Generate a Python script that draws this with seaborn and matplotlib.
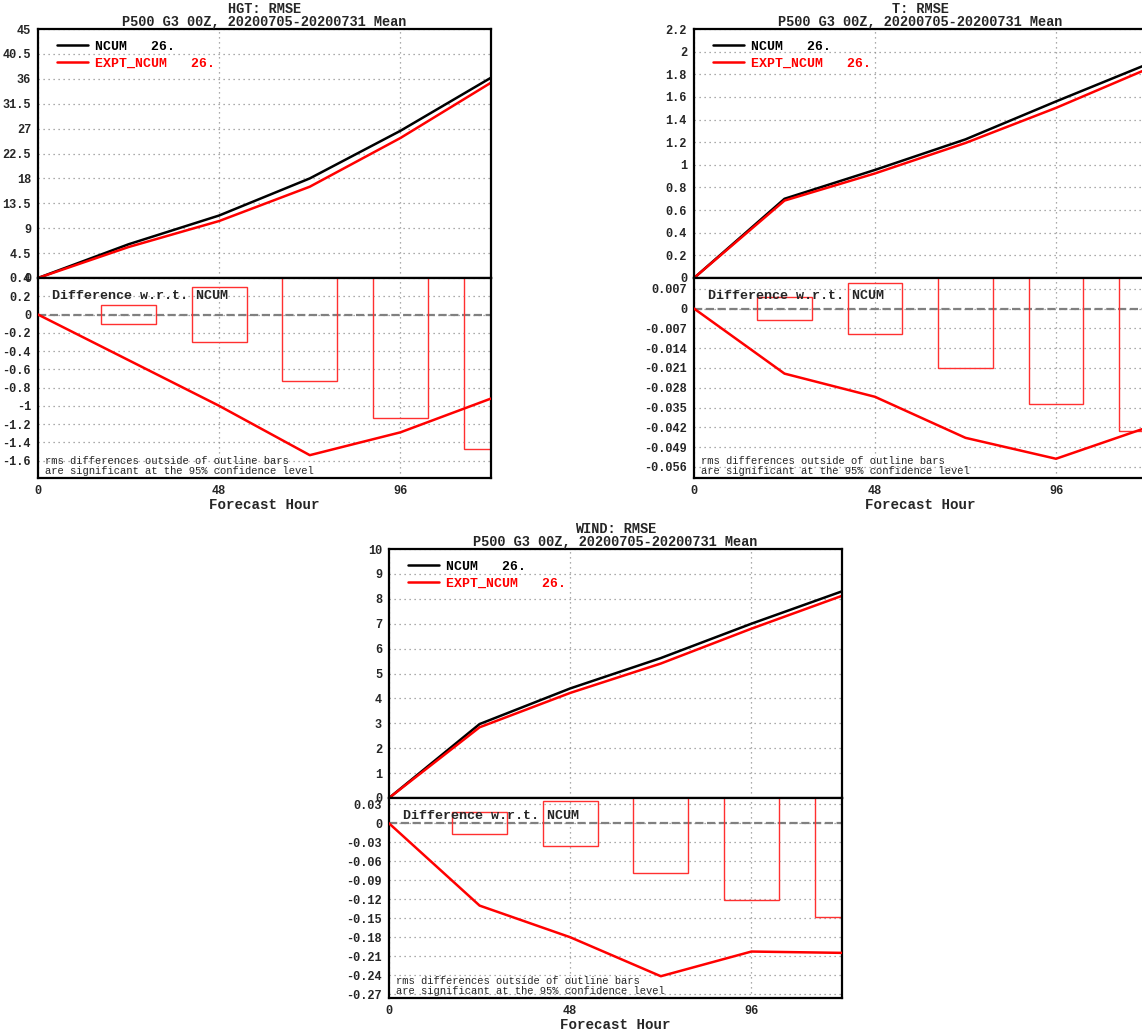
import numpy as np
import pandas as pd
import seaborn as sns
import matplotlib.pyplot as plt
from matplotlib.ticker import FuncFormatter

# forecast hours
hours = [0, 24, 48, 72, 96, 120]

# HGT
hgt_ncum = [0, 6.1, 11.3, 18.0, 26.6, 36.2]
hgt_expt = [0, 5.6, 10.3, 16.5, 25.3, 35.3]
hgt_diff = [0, -0.50, -1.00, -1.54, -1.29, -0.92]
hgt_ci = [0.105, 0.30, 0.725, 1.13, 1.47]

# T
t_ncum = [0, 0.70, 0.955, 1.225, 1.56, 1.886]
t_expt = [0, 0.684, 0.924, 1.193, 1.503, 1.844]
t_diff = [0, -0.023, -0.0312, -0.0457, -0.0531, -0.0421]
t_ci = [0.0041, 0.009, 0.0209, 0.0338, 0.0434]

# WIND
wind_ncum = [0, 2.97, 4.40, 5.62, 7.0, 8.3]
wind_expt = [0, 2.84, 4.22, 5.40, 6.8, 8.12]
wind_diff = [0, -0.130, -0.180, -0.2416, -0.2026, -0.2047]
wind_ci = [0.0175, 0.0355, 0.078, 0.121, 0.148]

sns.set_style("white")
plt.rcParams['font.family'] = ['Liberation Mono', 'DejaVu Sans Mono']
plt.rcParams['font.weight'] = 'bold'

W, H = 1142, 1036
fig = plt.figure(figsize=(W / 100, H / 100), dpi=100)


def fmt(v, pos):
    v = round(v, 4) + 0.0
    if v == 0:
        return '0'
    return f'{v:g}'


def panel(left, right, top, mid, bottom, name, ncum, expt, diff, ci,
          ylim_up, ticks_up, ylim_lo, ticks_lo):
    ax1 = fig.add_axes([left / W, 1 - mid / H, (right - left) / W, (mid - top) / H])
    ax2 = fig.add_axes([left / W, 1 - bottom / H, (right - left) / W, (bottom - mid) / H])

    sns.lineplot(x=hours, y=ncum, color='black', lw=1.8, ax=ax1, label='NCUM   26.')
    sns.lineplot(x=hours, y=expt, color='red', lw=1.8, ax=ax1, label='EXPT_NCUM   26.')
    ax1.legend(loc='upper left', bbox_to_anchor=(0.015, 1.0), frameon=False,
               handlelength=2.4, handletextpad=0.5, labelspacing=0.35,
               labelcolor='linecolor', prop={'weight': 'bold', 'size': 9.5})
    ax1.set_title(f'{name}: RMSE\nP500 G3 00Z, 20200705-20200731 Mean',
                  fontsize=9.8, fontweight='bold', pad=2, linespacing=0.95)
    ax1.set_ylim(*ylim_up)
    ax1.set_yticks(ticks_up)
    ax1.set_xticklabels([])

    ax2.bar(hours[1:], [2 * c for c in ci], bottom=[-c for c in ci], width=14.5,
            fill=False, edgecolor='#ff3030', linewidth=1.0, zorder=2)
    ax2.axhline(0, color='#808080', ls='--', lw=1.6, zorder=1)
    sns.lineplot(x=hours, y=diff, color='red', lw=1.8, ax=ax2, zorder=3)
    ax2.set_ylim(*ylim_lo)
    ax2.set_yticks(ticks_lo)
    ax2.set_xlabel('Forecast Hour', fontsize=10.2, fontweight='bold', labelpad=1)
    ax2.text(0.03, 0.91, 'Difference w.r.t. NCUM', transform=ax2.transAxes,
             fontsize=9.6, fontweight='bold', va='center', ha='left')
    ax2.text(0.015, 0.012, 'rms differences outside of outline bars\n'
             'are significant at the 95% confidence level',
             transform=ax2.transAxes, fontsize=7.6, fontweight='normal',
             va='bottom', ha='left', linespacing=0.95)

    for ax in (ax1, ax2):
        ax.set_xlim(0, 120)
        ax.set_xticks([0, 48, 96])
        ax.grid(True, ls=(0, (1, 3)), color='#909090', lw=0.9)
        ax.yaxis.set_major_formatter(FuncFormatter(fmt))
        ax.tick_params(direction='out', length=3, width=1, labelsize=8.6, pad=2)
        for s in ax.spines.values():
            s.set_linewidth(1.6)
            s.set_color('black')
    ax2.set_xticklabels(['0', '48', '96'])


panel(38, 491, 29, 278, 478, 'HGT', hgt_ncum, hgt_expt, hgt_diff, hgt_ci,
      (0, 45), np.arange(0, 45.01, 4.5), (-1.79, 0.4), np.arange(-1.6, 0.41, 0.2))
panel(694, 1146.5, 29, 278, 478, 'T', t_ncum, t_expt, t_diff, t_ci,
      (0, 2.2), np.arange(0, 2.201, 0.2), (-0.0599, 0.0108), np.arange(-0.056, 0.0071, 0.007))
panel(389, 842, 549, 798, 998, 'WIND', wind_ncum, wind_expt, wind_diff, wind_ci,
      (0, 10), np.arange(0, 10.01, 1), (-0.276, 0.040), np.arange(-0.27, 0.031, 0.03))

fig.savefig('out.png', dpi=100, facecolor='white')
